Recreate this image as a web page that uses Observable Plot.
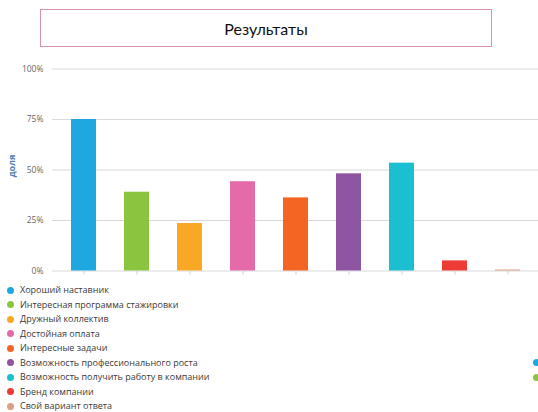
<!DOCTYPE html>
<html>
<head>
<meta charset="utf-8">
<script src="https://cdn.jsdelivr.net/npm/d3@7"></script>
<script src="https://cdn.jsdelivr.net/npm/@observablehq/plot@0.6"></script>
<style>
  html, body { margin: 0; padding: 0; background: #fff; }
  #wrap { position: relative; width: 538px; height: 412px; overflow: hidden; background: #fff; }
  #title { position: absolute; left: 40px; top: 9px; width: 452px; height: 38px; border: 1px solid #d98fb3;
           font-family: Lato, "Open Sans", sans-serif; font-size: 16px; color: #111;
           display: flex; align-items: center; justify-content: center; box-sizing: border-box; }
  #chart { position: absolute; left: 0; top: 55px; }
  #ylabel { position: absolute; left: 0px; top: 166px; transform: translate(0,-50%) rotate(-90deg); transform-origin: center;
            font-family: "Open Sans", sans-serif; font-weight: bold; font-size: 9px; color: #4f7fb3; }
  #legend { position: absolute; left: 7px; top: 283px; font-family: "Open Sans", sans-serif; font-size: 9px; color: #3a3a3a; }
  .item { height: 14.5px; line-height: 14.5px; display: flex; align-items: center; white-space: nowrap; }
  .dot { width: 7px; height: 7px; border-radius: 50%; margin-right: 6px; flex: none; }
  .rdot { position: absolute; width: 7px; height: 7px; border-radius: 50%; }
</style>
</head>
<body>
<div id="wrap">
  <div id="title">Результаты</div>
  <div id="chart"></div>
  <div id="ylabel">доля</div>
  <div id="legend"></div>
</div>
<script>
const categories = [
  "Хороший наставник",
  "Интересная программа стажировки",
  "Дружный коллектив",
  "Достойная оплата",
  "Интересные задачи",
  "Возможность профессионального роста",
  "Возможность получить работу в компании",
  "Бренд компании",
  "Свой вариант ответа"
];
const values = [75, 39, 23.5, 44.2, 36.2, 48.1, 53.4, 5, 0.5];
const colors = ["#1fa8e0", "#8bc540", "#f9a825", "#e56aa9", "#f26522", "#8e55a3", "#1bbfd0", "#ef3b36", "#dba083"];
const yTicks = [0, 25, 50, 75, 100];

const data = categories.map((c, i) => ({cat: c, val: values[i], color: colors[i]}));

const chart = Plot.plot({
  width: 538,
  height: 225,
  marginTop: 13.5,
  marginBottom: 9.5,
  marginLeft: 52,
  marginRight: 0,
  style: {fontFamily: "'Open Sans', sans-serif", fontSize: "8.5px", color: "#666", background: "transparent"},
  x: {domain: categories, range: [54, 537.5], paddingInner: 0.52, paddingOuter: 0.26, axis: null},
  y: {domain: [0, 100], axis: null},
  color: {type: "identity"},
  marks: [
    Plot.ruleY(yTicks, {stroke: "#d9d9d9", strokeWidth: 1}),
    Plot.barY(data, {x: "cat", y: "val", fill: "color"}),
    Plot.axisX({tickSize: 4, tickFormat: () => "", stroke: "#cfcfcf", label: null}),
    Plot.axisY({ticks: yTicks, tickSize: 0, tickPadding: 9, tickFormat: d => d + "%", fill: "#666", label: null})
  ]
});
document.getElementById("chart").appendChild(chart);

const legend = document.getElementById("legend");
categories.forEach((c, i) => {
  const it = document.createElement("div");
  it.className = "item";
  const dot = document.createElement("span");
  dot.className = "dot";
  dot.style.background = colors[i];
  const t = document.createElement("span");
  t.textContent = c;
  it.appendChild(dot);
  it.appendChild(t);
  legend.appendChild(it);
});
// clipped second legend column at the right edge
[0, 1].forEach(i => {
  const d = document.createElement("div");
  d.className = "rdot";
  d.style.left = "533px";
  d.style.top = (359 + i * 14.5) + "px";
  d.style.background = colors[i];
  document.getElementById("wrap").appendChild(d);
});
</script>
</body>
</html>
